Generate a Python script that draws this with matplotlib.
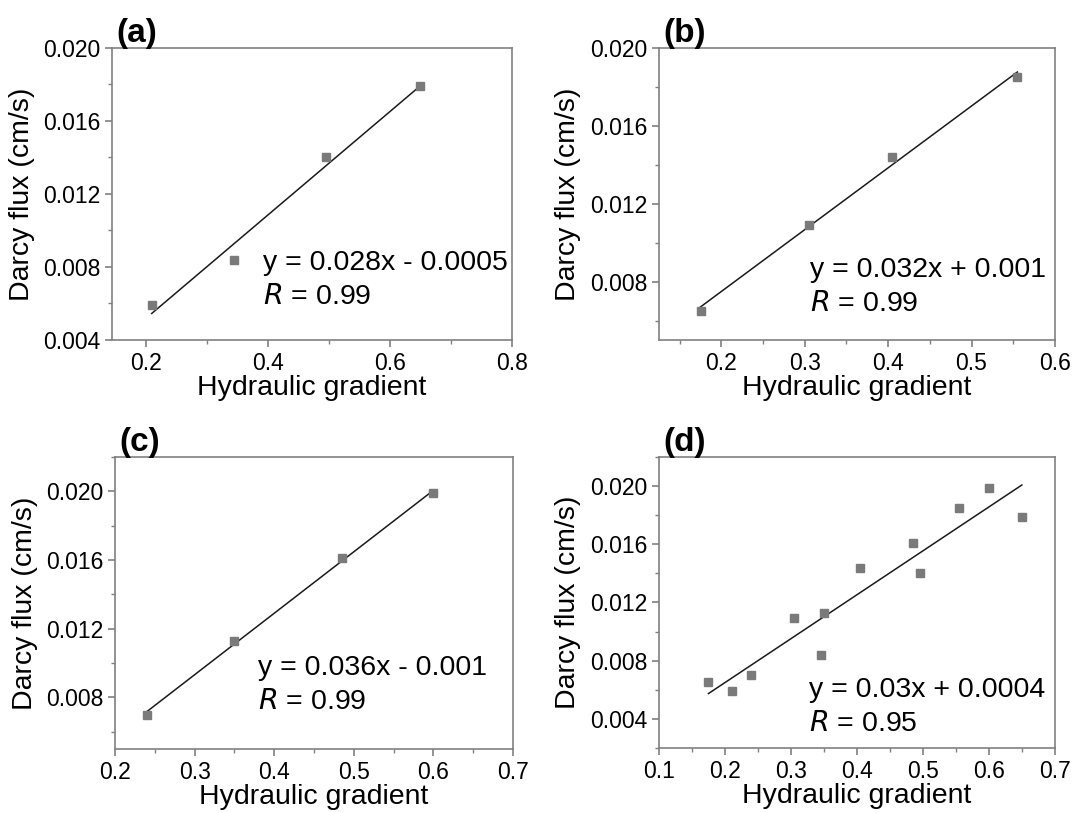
import numpy as np
import matplotlib.pyplot as plt
from matplotlib.ticker import MultipleLocator, FormatStrFormatter

plt.rcParams["font.family"] = ["Liberation Sans", "DejaVu Sans"]

# panel (a)
xa = [0.21, 0.345, 0.495, 0.65]
ya = [0.0059, 0.0084, 0.0140, 0.0179]
# panel (b)
xb = [0.175, 0.305, 0.405, 0.555]
yb = [0.0065, 0.0109, 0.0144, 0.0185]
# panel (c)
xc = [0.24, 0.35, 0.485, 0.60]
yc = [0.0070, 0.0113, 0.0161, 0.0199]
# panel (d): all measurements
xd = [0.175, 0.21, 0.24, 0.305, 0.345, 0.35, 0.405, 0.485, 0.495, 0.555, 0.60, 0.65]
yd = [0.0065, 0.0059, 0.0070, 0.0109, 0.0084, 0.0113, 0.0144, 0.0161, 0.0140, 0.0185, 0.0199, 0.0179]

labels = ["(a)", "(b)", "(c)", "(d)"]
equations = ["y = 0.028x - 0.0005", "y = 0.032x + 0.001",
             "y = 0.036x - 0.001", "y = 0.03x + 0.0004"]
r_values = ["0.99", "0.99", "0.99", "0.95"]

xlims = [(0.145, 0.8), (0.125, 0.6), (0.2, 0.7), (0.1, 0.7)]
ylims = [(0.004, 0.020), (0.005, 0.020), (0.005, 0.022), (0.002, 0.022)]
xmajor = [0.2, 0.1, 0.1, 0.1]
ymajor_start = [0.004, 0.008, 0.008, 0.004]

positions = [
    [0.1045, 0.5818, 0.3731, 0.3592],
    [0.6147, 0.5818, 0.3693, 0.3592],
    [0.1073, 0.0787, 0.3713, 0.3592],
    [0.6147, 0.0800, 0.3693, 0.3579],
]
# left edge, centre of equation line, centre of R line (axes fraction)
text_pos = [(0.378, 0.264, 0.147), (0.381, 0.240, 0.123),
            (0.359, 0.277, 0.161), (0.379, 0.199, 0.082)]

gray = "#808080"
fig = plt.figure(figsize=(10.72, 8.13), dpi=100)

for i, (x, y) in enumerate([(xa, ya), (xb, yb), (xc, yc), (xd, yd)]):
    ax = fig.add_axes(positions[i])
    ax.plot(x, y, "s", color="#7a7a7a", markersize=6, zorder=3)
    k, b = np.polyfit(x, y, 1)
    xs = np.array([min(x), max(x)])
    ax.plot(xs, k * xs + b, color="#1a1a1a", lw=1.1, zorder=2)

    ax.set_xlim(*xlims[i])
    ax.set_ylim(*ylims[i])
    ax.xaxis.set_major_locator(MultipleLocator(xmajor[i]))
    ax.xaxis.set_minor_locator(MultipleLocator(xmajor[i] / 2))
    ax.set_yticks(np.arange(ymajor_start[i], ylims[i][1] + 1e-9, 0.004))
    ax.yaxis.set_minor_locator(MultipleLocator(0.002))
    ax.yaxis.set_major_formatter(FormatStrFormatter("%.3f"))
    ax.xaxis.set_major_formatter(FormatStrFormatter("%.1f"))

    for s in ax.spines.values():
        s.set_color(gray)
        s.set_linewidth(1.2)
    ax.tick_params(which="both", direction="out", color=gray, labelsize=16.5,
                   top=False, right=False)
    ax.tick_params(which="major", length=5, width=1.2)
    ax.tick_params(which="minor", length=3, width=1.0)

    ax.set_xlabel("Hydraulic gradient", fontsize=20.5, labelpad=0)
    ax.set_ylabel("Darcy flux (cm/s)", fontsize=20.5, labelpad=6)
    ax.text(0.012, 0.995, labels[i], transform=ax.transAxes, fontsize=24,
            fontweight="bold", ha="left", va="bottom")
    tx, ty1, ty2 = text_pos[i]
    ax.text(tx, ty1, equations[i], transform=ax.transAxes, fontsize=20.5,
            ha="left", va="center")
    ax.text(tx, ty2, "$\\it{R}$ = " + r_values[i], transform=ax.transAxes,
            fontsize=20.5, ha="left", va="center")

fig.savefig("out.png", dpi=100)
